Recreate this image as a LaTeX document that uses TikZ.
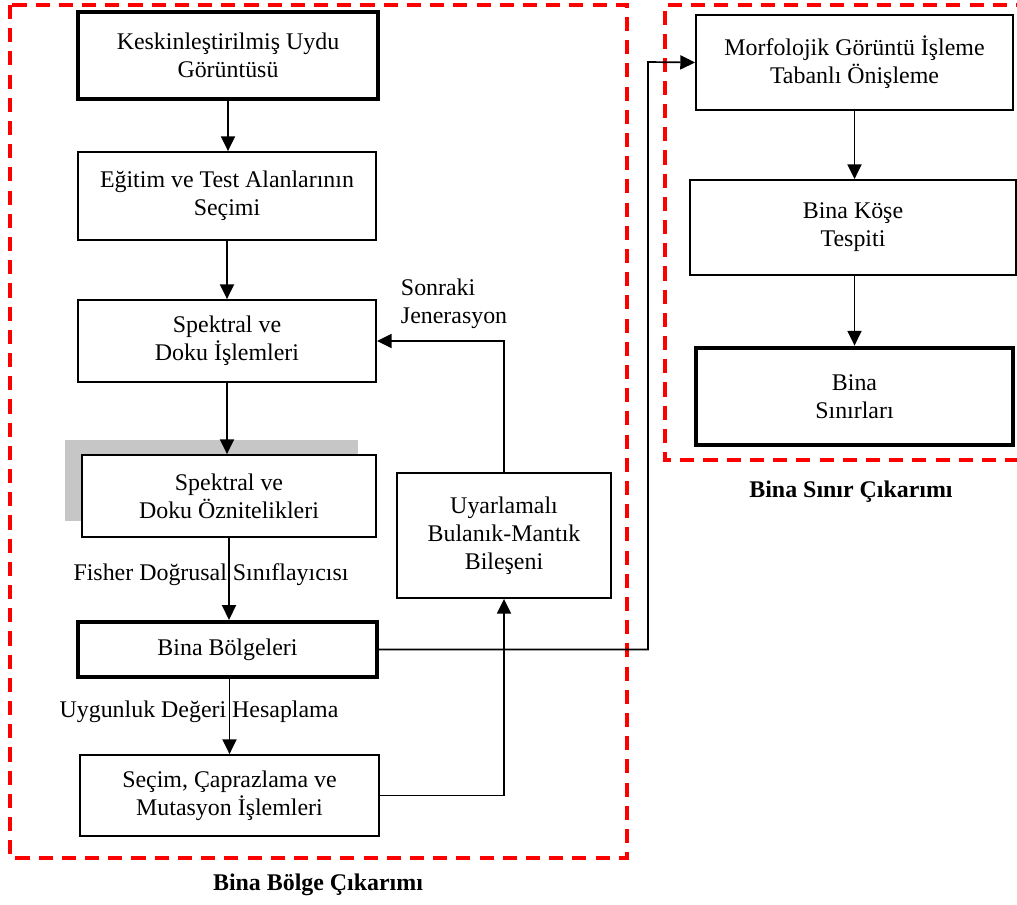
\documentclass[tikz,border=0pt]{standalone}
\usepackage{fontspec}
\setmainfont{Liberation Serif}
\usetikzlibrary{arrows.meta,positioning}

\begin{document}
\begin{tikzpicture}[x=0.025cm, y=-0.025cm,
    every node/.style={font=\fontsize{17}{20}\selectfont},
    procbox/.style={draw, line width=1.3pt, align=center, inner sep=0pt},
    keybox/.style={procbox, line width=3.4pt},
    arr/.style={line width=1.2pt, -{Triangle[length=10.5pt, width=10pt]}},
    region/.style={draw=red, line width=2.8pt, dash pattern=on 10pt off 6.5pt},
    title/.style={font=\fontsize{17}{20}\selectfont\bfseries}]
    \clip (0,0) rectangle (1017,904);
    % Regions
    \draw[region] (10,5) rectangle (627,858);
    \draw[region] (1030,5) -| (665,460) -- (1030,460);
    \node[title] (regionleft) at (318,885) {Bina Bölge Çıkarımı};
    \node[title] (regionright) at (851,492) {Bina Sınır Çıkarımı};
    % Shadow behind the feature box
    \fill[gray!45] (65,440) rectangle (358,521);
    % Left column
    \node[keybox, minimum width=7.5cm, minimum height=2.175cm] (image) at (228,55.5) {Keskinleştirilmiş Uydu\\Görüntüsü};
    \node[procbox, minimum width=7.45cm, minimum height=2.2cm] (training) at (227,196) {Eğitim ve Test Alanlarının\\Seçimi};
    \node[procbox, minimum width=7.45cm, minimum height=2.05cm] (texture) at (227,341) {Spektral ve\\Doku İşlemleri};
    \node[procbox, fill=white, minimum width=7.35cm, minimum height=2.05cm] (features) at (229,496) {Spektral ve\\Doku Öznitelikleri};
    \node[procbox, line width=3pt, minimum width=7.475cm, minimum height=1.375cm] (regions) at (227.5,649.5) {Bina Bölgeleri};
    \node[procbox, minimum width=7.475cm, minimum height=2.025cm] (genetic) at (229.5,795.5) {Seçim, Çaprazlama ve\\Mutasyon İşlemleri};
    \node[procbox, minimum width=5.35cm, minimum height=3.125cm] (fuzzy) at (504,535.5) {Uyarlamalı\\Bulanık-Mantık\\Bileşeni};
    % Right column
    \node[procbox, minimum width=7.925cm, minimum height=2.375cm] (morph) at (854.5,62.5) {Morfolojik Görüntü İşleme\\Tabanlı Önişleme};
    \node[procbox, minimum width=8.15cm, minimum height=2.375cm] (corner) at (853,227.5) {Bina Köşe\\Tespiti};
    \node[keybox, minimum width=7.925cm, minimum height=2.425cm] (outline) at (854.5,396.5) {Bina\\Sınırları};
    % Edge labels
    \node (fisher) at (211,575) {Fisher Doğrusal Sınıflayıcısı};
    \node (fitness) at (199,712) {Uygunluk Değeri Hesaplama};
    \node[anchor=west, align=left] (nextgen) at (396,304) {Sonraki\\Jenerasyon};
    \coordinate (turn) at (648,62);
    % Connectors
    \draw[arr] (image) -- (image |- training.north);
    \draw[arr] (training) -- (training |- texture.north);
    \draw[arr] (texture) -- (texture |- features.north);
    \draw[arr] (features) -- (features |- regions.north);
    \draw[arr] (genetic |- regions.south) -- (genetic);
    \draw[arr] (genetic.east) -| (fuzzy.south);
    \draw[arr] (fuzzy.north) |- (texture.east);
    \draw[arr] (regions.east) -| (turn) -- (morph.west);
    \draw[arr] (morph.south) -- (morph.south |- corner.north);
    \draw[arr] (morph.south |- corner.south) -- (outline);
\end{tikzpicture}
\end{document}
